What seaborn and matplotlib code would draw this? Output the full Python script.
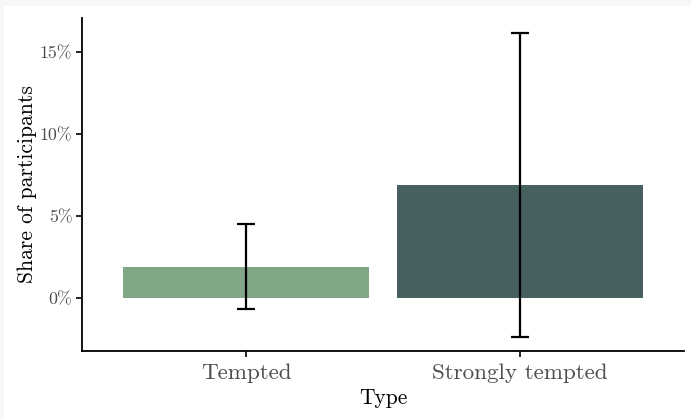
import matplotlib
matplotlib.use("Agg")
import matplotlib.pyplot as plt
import seaborn as sns
import pandas as pd
from matplotlib.patches import Rectangle

types = ["Tempted", "Strongly tempted"]
share = [1.9, 6.9]
ci_low = [-0.7, -2.35]
ci_high = [4.5, 16.15]
colors = ["#82a786", "#476161"]
yticks = [0, 5, 10, 15]
ytick_labels = ["0%", "5%", "10%", "15%"]

sns.set_theme(style="white")
plt.rcParams["font.family"] = ["cmr10", "DejaVu Serif"]
plt.rcParams["axes.formatter.use_mathtext"] = True

fig = plt.figure(figsize=(6.91, 4.19), dpi=100, facecolor="#f7f7f7")
fig.patches.append(Rectangle((4 / 691, 0), 1, 1 - 6 / 419, transform=fig.transFigure,
                             facecolor="white", edgecolor="none", zorder=-10))
ax = fig.add_axes([82 / 691, 1 - 351 / 419, (684 - 82) / 691, (351 - 18) / 419])
ax.set_zorder(5)
ax.set_facecolor("white")

df = pd.DataFrame({"Type": types, "Share": share})
sns.barplot(data=df, x="Type", y="Share", hue="Type", palette=colors, width=0.9,
            legend=False, ax=ax, saturation=1, edgecolor="none")
xs = list(range(len(types)))
yerr = [[s - l for s, l in zip(share, ci_low)], [h - s for s, h in zip(share, ci_high)]]
ax.errorbar(xs, share, yerr=yerr, fmt="none", ecolor="black", elinewidth=1.6,
            capsize=6.5, capthick=1.6, zorder=5)

ax.set_xlim(-0.6, 1.6)
ax.set_ylim(-3.23, 17.07)
ax.set_yticks(yticks)
ax.set_yticklabels(ytick_labels)
ax.tick_params(axis="y", labelsize=12.8, labelcolor="#4d4d4d", length=4, width=1.2,
               left=True, color="black", pad=3)
ax.tick_params(axis="x", labelsize=16.6, labelcolor="#4d4d4d", length=4, width=1.2,
               bottom=True, color="black", pad=5)
for side in ["top", "right"]:
    ax.spines[side].set_visible(False)
for side in ["left", "bottom"]:
    ax.spines[side].set_color("black")
    ax.spines[side].set_linewidth(1.3)
ax.set_xlabel("Type", fontsize=15.5, color="black", labelpad=4)
ax.set_ylabel("Share of participants", fontsize=15.5, color="black", labelpad=2)

fig.savefig("out.png", dpi=100, facecolor=fig.get_facecolor())
